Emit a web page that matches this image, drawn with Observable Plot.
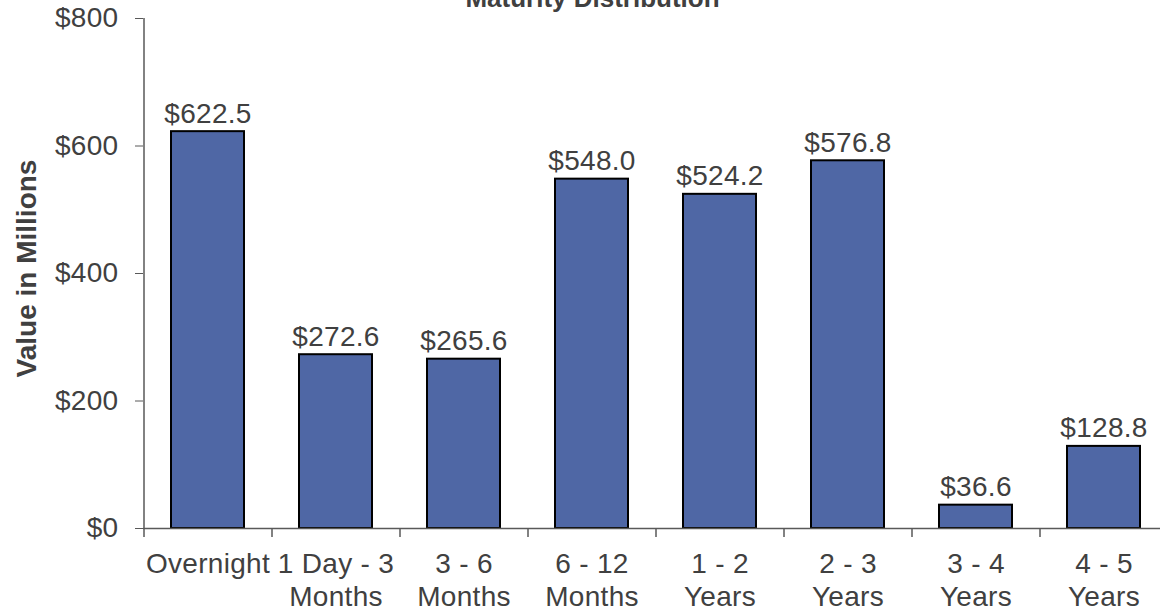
<!DOCTYPE html>
<html>
<head>
<meta charset="utf-8">
<script src="https://cdn.jsdelivr.net/npm/d3@7"></script>
<script src="https://cdn.jsdelivr.net/npm/@observablehq/plot@0.6"></script>
<style>
  html, body { margin: 0; padding: 0; background: #fff; overflow: hidden; }
</style>
</head>
<body>
<div id="chart"></div>
<script>
const categories = ["Overnight", "1 Day - 3\nMonths", "3 - 6\nMonths", "6 - 12\nMonths", "1 - 2\nYears", "2 - 3\nYears", "3 - 4\nYears", "4 - 5\nYears"];
const values = [622.5, 272.6, 265.6, 548.0, 524.2, 576.8, 36.6, 128.8];
const yTicks = [0, 200, 400, 600, 800];
const title = "Maturity Distribution";
const yLabel = "Value in Millions";

const data = categories.map((c, i) => ({category: c, value: values[i]}));
const textColor = "#404040";
const axisColor = "#595959";
const font = "'Liberation Sans', Arial, Helvetica, sans-serif";

const chart = Plot.plot({
  width: 1160,
  height: 612,
  marginTop: 18,
  marginBottom: 84,
  marginLeft: 143,
  marginRight: 0,
  style: {fontFamily: font, fontSize: "28px", color: textColor, background: "#fff", letterSpacing: "0.3px", overflow: "visible"},
  x: {domain: categories, range: [143, 1167], paddingInner: 0.43, paddingOuter: 0.215, axis: null},
  y: {domain: [0, 800], axis: null},
  marks: [
    Plot.barY(data, {x: "category", y: "value", fill: "#4F67A5", stroke: "#000", strokeWidth: 2}),
    Plot.ruleY([0], {stroke: axisColor, strokeWidth: 1.5}),
    Plot.ruleX([categories[0]], {y1: 0, y2: 800, dx: -64, stroke: axisColor, strokeWidth: 1.5}),
    Plot.ruleX(categories, {y1: 0, y2: 0, insetBottom: -9, dx: -64, stroke: axisColor, strokeWidth: 1.5}),
    Plot.axisY(yTicks, {tickSize: 8, tickPadding: 17, tickFormat: d => "$" + d, stroke: axisColor, fill: textColor, fontSize: 28, label: null}),
    Plot.text(data, {x: "category", y: "value", text: d => "$" + d.value.toFixed(1), lineAnchor: "bottom", dy: -9, fill: textColor, fontSize: 28}),
    Plot.text(categories, {x: d => d, frameAnchor: "bottom", lineAnchor: "top", dy: 21, lineHeight: 1.18, fill: textColor, fontSize: 28}),
    Plot.text([title], {frameAnchor: "top-left", dx: 449, dy: -12, textAnchor: "middle", lineAnchor: "bottom", fontWeight: "bold", fill: textColor, fontSize: 26}),
    Plot.text([yLabel], {frameAnchor: "left", dx: -116, dy: -5, rotate: -90, textAnchor: "middle", fontWeight: "bold", fill: textColor, fontSize: 28})
  ]
});

d3.select(chart).selectAll("text")
  .filter(function() { return this.textContent === title || this.textContent === yLabel; })
  .style("letter-spacing", "0px");

document.getElementById("chart").appendChild(chart);
</script>
</body>
</html>
